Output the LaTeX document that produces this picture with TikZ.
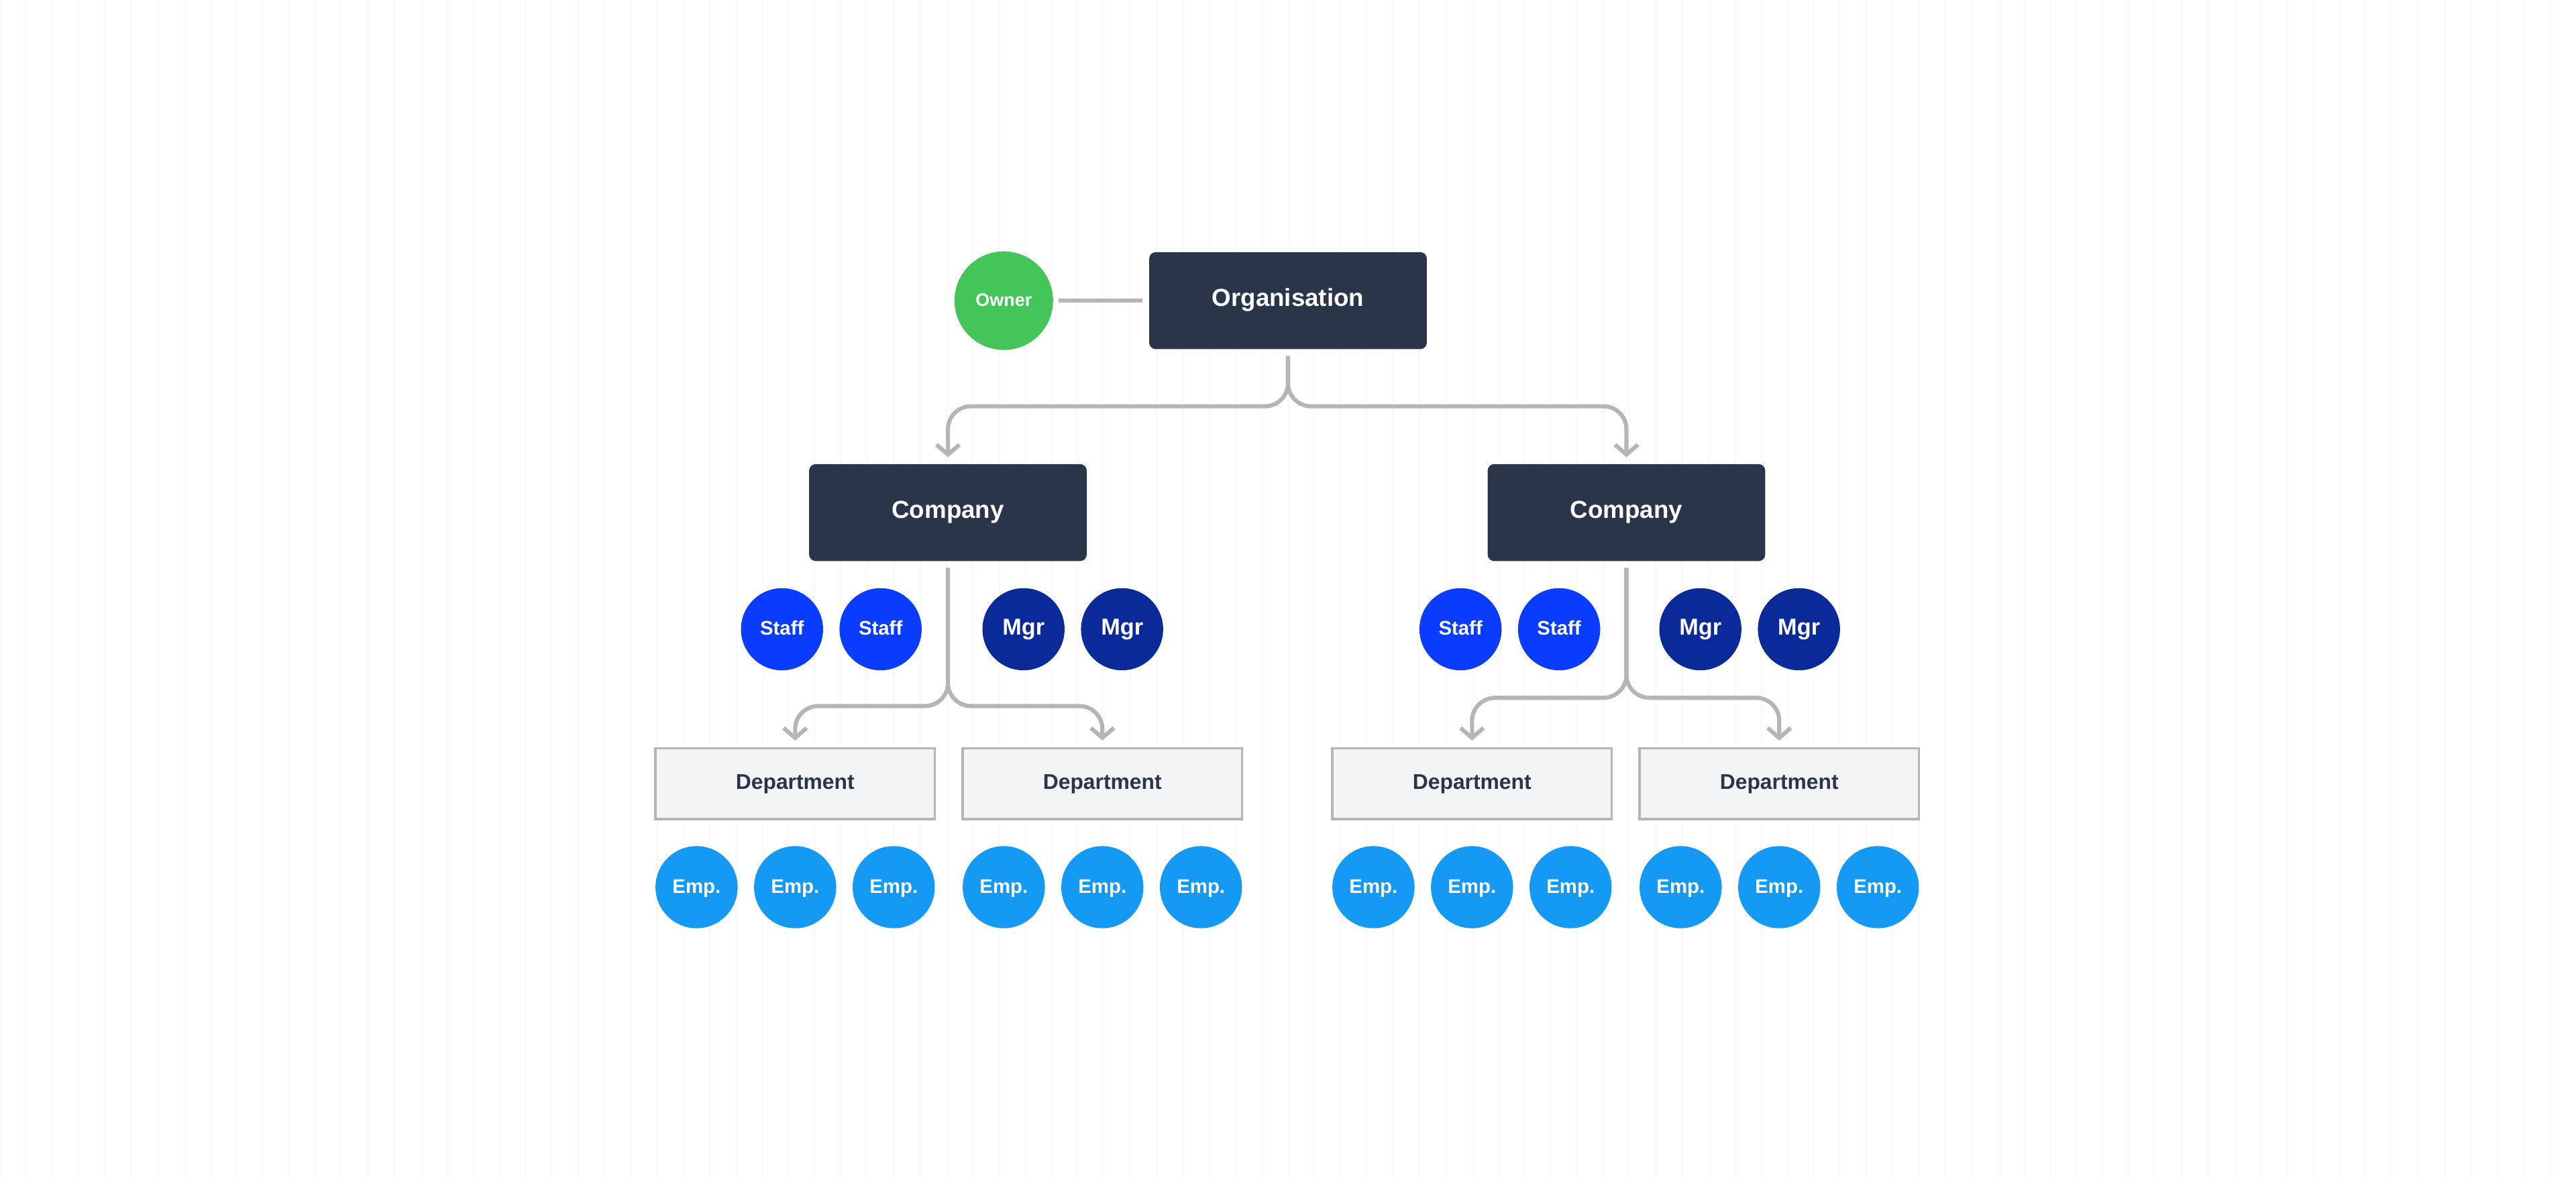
\documentclass[tikz,border=0pt]{standalone}
\usepackage{fontspec}
\setmainfont{Liberation Sans}
\usetikzlibrary{arrows.meta,calc}
\definecolor{navy}{HTML}{2B3549}
\definecolor{owner}{HTML}{44C55A}
\definecolor{staff}{HTML}{0A3CFF}
\definecolor{mgr}{HTML}{0A2A9A}
\definecolor{emp}{HTML}{1499F5}
\definecolor{conn}{HTML}{B5B5B5}
\definecolor{dept}{HTML}{F3F4F6}
\definecolor{gridc}{HTML}{F6F6F6}
\begin{document}
\begin{tikzpicture}[x=1pt,y=-1pt,
  every node/.style={text height=0.72em,text depth=0pt},
  dark/.style={draw=none,fill=navy,rounded corners=4pt,minimum width=169pt,minimum height=59pt,text=white,font=\fontsize{15}{18}\selectfont\bfseries},
  deptbox/.style={draw=conn,line width=1.5pt,fill=dept,minimum width=170pt,minimum height=43pt,font=\fontsize{13}{16}\selectfont\bfseries,text=navy},
  circ/.style={circle,draw=none,minimum size=50pt,inner sep=0pt,text=white,font=\fontsize{12}{14}\selectfont\bfseries},
  cn/.style={draw=conn,line width=2.5pt,rounded corners=14pt},
  arr/.style={cn,-{Straight Barb[length=6pt,width=14pt,line width=2.5pt]}}]
\fill[white] (0,0) rectangle (1568,717);
\useasboundingbox (0,0) rectangle (1568,717);
\draw[gridc,line width=0.4pt,step=16] (0,0) grid (1568,717);
\node[circ,fill=owner,minimum size=60pt,font=\fontsize{11}{13}\selectfont\bfseries] (own) at (611,183) {Owner};
\node[dark] (org) at (784,183) {Organisation};
\draw[draw=conn,line width=2.5pt] ($(own.east)+(3,0)$) -- ($(org.west)+(-4,0)$);
\node[dark] (c1) at (577,312) {Company};
\node[dark] (c2) at (990,312) {Company};
\draw[arr] ($(org.south)+(0,4)$) |- ($(c1.north)+(0,-35)$) -- ($(c1.north)+(0,-4)$);
\draw[arr] ($(org.south)+(0,4)$) |- ($(c2.north)+(0,-35)$) -- ($(c2.north)+(0,-4)$);
\foreach \n/\x/\t/\c/\f in {s1/476/Staff/staff/12,s2/536/Staff/staff/12,m1/623/Mgr/mgr/14,m2/683/Mgr/mgr/14,s3/889/Staff/staff/12,s4/949/Staff/staff/12,m3/1035/Mgr/mgr/14,m4/1095/Mgr/mgr/14}
  \node[circ,fill=\c,font=\fontsize{\f}{16}\selectfont\bfseries] (\n) at (\x,383) {\t};
\node[deptbox] (d1) at (484,477) {Department};
\node[deptbox] (d2) at (671,477) {Department};
\node[deptbox] (d3) at (896,477) {Department};
\node[deptbox] (d4) at (1083,477) {Department};
\draw[arr] ($(c1.south)+(0,4)$) |- ($(d1.north)+(0,-25)$) -- ($(d1.north)+(0,-4)$);
\draw[arr] ($(c1.south)+(0,4)$) |- ($(d2.north)+(0,-25)$) -- ($(d2.north)+(0,-4)$);
\draw[arr] ($(c2.south)+(0,4)$) |- ($(d3.north)+(0,-30)$) -- ($(d3.north)+(0,-4)$);
\draw[arr] ($(c2.south)+(0,4)$) |- ($(d4.north)+(0,-30)$) -- ($(d4.north)+(0,-4)$);
\foreach \x [count=\i] in {424,484,544,611,671,731,836,896,956,1023,1083,1143}
  \node[circ,fill=emp] (e\i) at (\x,540) {Emp.};
\end{tikzpicture}
\end{document}
